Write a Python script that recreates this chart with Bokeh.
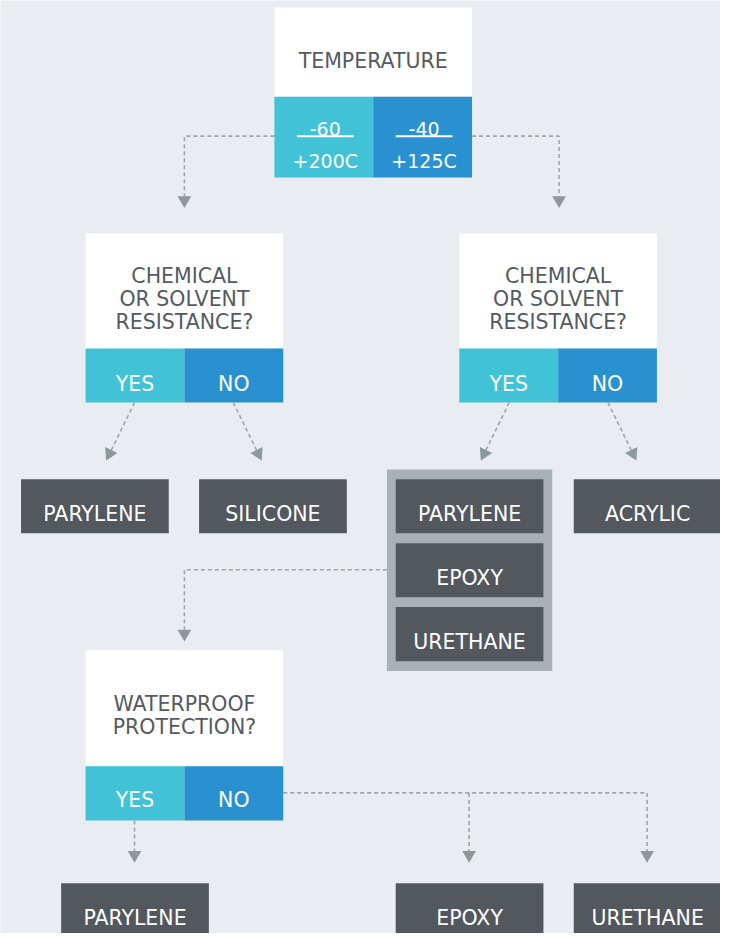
import math
from bokeh.plotting import figure
from bokeh.models import Range1d
from bokeh.core.properties import value
from bokeh.embed import file_html
from bokeh.resources import INLINE

# ---------------- content ----------------
temperature_title = ["TEMPERATURE"]
temperature_low = ["-60", "-40"]
temperature_high = ["+200C", "+125C"]
chemical_question = ["CHEMICAL", "OR SOLVENT", "RESISTANCE?"]
waterproof_question = ["WATERPROOF", "PROTECTION?"]
answers = ["YES", "NO"]
outcomes_left = ["PARYLENE", "SILICONE"]
outcomes_group = ["PARYLENE", "EPOXY", "URETHANE"]
outcomes_right = ["ACRYLIC"]
outcomes_bottom = ["PARYLENE", "EPOXY", "URETHANE"]

# ---------------- styles ----------------
BG = "#e9ecf1"
WHITE = "#ffffff"
CYAN = "#41c2d6"
BLUE = "#2991d0"
DARK = "#53575e"
FRAME = "#a9b1b7"
TEXT = "#555a61"
LINE = "#9ea5ab"
HEAD = "#8d979e"
FONT = value("DejaVu Sans")
FS = "20.5px"

p = figure(width=720, height=933, x_range=Range1d(0, 736), y_range=Range1d(949, 0),
           x_axis_type=None, y_axis_type=None, output_backend="svg",
           toolbar_location=None, min_border=0, background_fill_color=BG,
           border_fill_color=BG, outline_line_color=None)
p.grid.visible = False

# ---------------- layout ----------------
# question blocks: x0, x1, top, split, bottom
q_temp = (280, 482, 7, 98, 180)
q_chem_l = (87, 289, 237, 354, 409)
q_chem_r = (469, 671, 237, 354, 409)
q_water = (87, 289, 661, 779, 834)

texts_dark = {"x": [], "y": [], "t": []}
texts_light = {"x": [], "y": [], "t": []}


def question_block(box, lines, baselines, labels, label_base):
    x0, x1, t, s, b = box
    xm = (x0 + x1) / 2
    p.quad(left=[x0], right=[x1], top=[t], bottom=[s], fill_color=WHITE, line_color=None)
    p.quad(left=[x0, xm], right=[xm, x1], top=[s, s], bottom=[b, b],
           fill_color=[CYAN, BLUE], line_color=None)
    for ln, yb in zip(lines, baselines):
        texts_dark["x"].append(xm)
        texts_dark["y"].append(yb)
        texts_dark["t"].append(ln)
    if labels is not None:
        for lab, cx in zip(labels, [(x0 + xm) / 2, (xm + x1) / 2]):
            texts_light["x"].append(cx)
            texts_light["y"].append(label_base)
            texts_light["t"].append(lab)


question_block(q_temp, temperature_title, [61.5], None, None)
question_block(q_chem_l, chemical_question, [280, 303.5, 327], answers, 390)
question_block(q_chem_r, chemical_question, [280, 303.5, 327], answers, 390)
question_block(q_water, waterproof_question, [716, 738.5], answers, 813)

# temperature ranges (fractions)
tx0, tx1 = q_temp[0], q_temp[1]
tm = (tx0 + tx1) / 2
range_cx = [(tx0 + tm) / 2 + 1.5, (tm + tx1) / 2 + 1.5]
p.text(x=range_cx, y=[131, 131], text=temperature_low, text_align="center",
       text_baseline="alphabetic", text_font=FONT, text_font_size="19px", text_color=WHITE)
p.text(x=range_cx, y=[163.5, 163.5], text=temperature_high, text_align="center",
       text_baseline="alphabetic", text_font=FONT, text_font_size="19px", text_color=WHITE)
p.segment(x0=[c - 29 for c in range_cx], x1=[c + 29 for c in range_cx], y0=[138, 138], y1=[138, 138],
          line_color=WHITE, line_width=2)

# outcome boxes
BW, BH = 151, 55
p.quad(left=[395], right=[564], top=[477], bottom=[682], fill_color=FRAME, line_color=None)

outcome_boxes = []  # (left, top, label)
outcome_boxes += list(zip([21, 203], [487, 487], outcomes_left))
outcome_boxes += list(zip([404, 404, 404], [487, 552, 617], outcomes_group))
outcome_boxes += list(zip([586], [487], outcomes_right))
outcome_boxes += list(zip([62, 404, 586], [898, 898, 898], outcomes_bottom))

p.quad(left=[b[0] for b in outcome_boxes], right=[b[0] + BW for b in outcome_boxes],
       top=[b[1] for b in outcome_boxes], bottom=[b[1] + BH for b in outcome_boxes],
       fill_color=DARK, line_color=None)
for lft, top, lab in outcome_boxes:
    texts_light["x"].append(lft + BW / 2)
    texts_light["y"].append(top + 35)
    texts_light["t"].append(lab)

# ---------------- connectors ----------------
# each: polyline points ending at the arrow tip
connectors = [
    [(280, 138), (188, 138), (188, 211)],
    [(482, 138), (571, 138), (571, 211)],
    [(137, 409), (108, 468)],
    [(238, 409), (267, 468)],
    [(520, 409), (491, 468)],
    [(621, 409), (650, 468)],
    [(395, 579), (188, 579), (188, 652)],
    [(137, 834), (137, 877)],
    [(289, 806), (661, 806), (661, 877)],
    [(479, 806), (479, 877)],
]
HL, HW = 12, 7
line_xs, line_ys, head_xs, head_ys = [], [], [], []
for pts in connectors:
    (ax, ay), (bx, by) = pts[-2], pts[-1]
    d = math.hypot(bx - ax, by - ay)
    ux, uy = (bx - ax) / d, (by - ay) / d
    cx, cy = bx - HL * ux, by - HL * uy
    px, py = -uy, ux
    line_xs.append([q[0] for q in pts[:-1]] + [cx])
    line_ys.append([q[1] for q in pts[:-1]] + [cy])
    head_xs.append([bx, cx + HW * px, cx - HW * px])
    head_ys.append([by, cy + HW * py, cy - HW * py])

p.multi_line(xs=line_xs, ys=line_ys, line_color=LINE, line_width=1.6, line_dash="4 3")
p.patches(xs=head_xs, ys=head_ys, fill_color=HEAD, line_color=None)

# ---------------- texts ----------------
p.text(x=texts_dark["x"], y=texts_dark["y"], text=texts_dark["t"], text_align="center",
       text_baseline="alphabetic", text_font=FONT, text_font_size=FS, text_color=TEXT)
p.text(x=texts_light["x"], y=texts_light["y"], text=texts_light["t"], text_align="center",
       text_baseline="alphabetic", text_font=FONT, text_font_size=FS, text_color=WHITE)

open("out.html", "w").write(file_html(p, INLINE))
